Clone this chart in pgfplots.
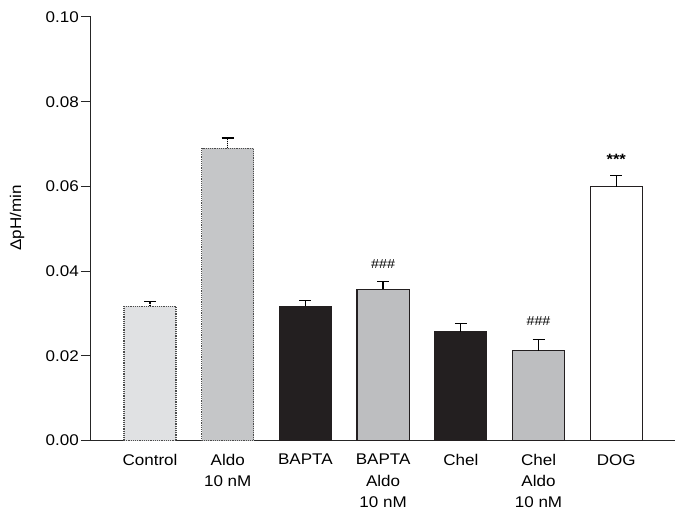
\documentclass[border=0pt]{standalone}
\usepackage{fontspec}
\setmainfont{Liberation Sans}[FakeStretch=1.1]
\usepackage{pgfplots}
\pgfplotsset{compat=1.18}
\definecolor{ctrl}{HTML}{E0E1E3}
\definecolor{aldo}{HTML}{C5C6C8}
\definecolor{grayb}{HTML}{BDBEC0}
\definecolor{blk}{HTML}{231F20}
\begin{document}
\begin{tikzpicture}
\begin{axis}[
  scale only axis, width=584pt, height=424pt,
  xmin=-0.76, xmax=6.75, ymin=0, ymax=0.10,
  axis lines=left, axis line style={-, line width=1pt, black!85},
  ybar, bar shift=0pt, bar width=0.67,
  ytick={0,0.02,0.04,0.06,0.08,0.10},
  yticklabel style={/pgf/number format/fixed, /pgf/number format/fixed zerofill, /pgf/number format/precision=2, /pgf/number format/assume math mode=true, inner xsep=2pt, inner ysep=11.5pt, font=\fontsize{15.5}{17}\selectfont},
  tick align=outside, major tick length=10pt,
  tick style={line width=1pt, black!85},
  xtick={0,1,2,3,4,5,6},
  xticklabels={Control, Aldo\\10 nM, BAPTA, BAPTA\\Aldo\\10 nM, Chel, Chel\\Aldo\\10 nM, DOG},
  x tick style={draw=none},
  xticklabel style={align=center, font=\fontsize{15.5}{21.2}\selectfont, anchor=north, inner xsep=0pt, inner ysep=2pt, yshift=-1.5pt},
  ylabel={ΔpH/min},
  ylabel style={font=\fontsize{15.5}{17}\selectfont, at={(axis description cs:0,0.526)}, anchor=south, inner xsep=0pt, inner ysep=10pt, yshift=56.4pt},
  error bars/y dir=plus, error bars/y explicit,
  error bars/error bar style={line width=1.3pt, black},
  error bars/error mark options={rotate=90, mark size=6pt, line width=1.3pt, black},
  clip=false,
]
\addplot[fill=ctrl, draw=black!70, densely dotted, line width=1.2pt] coordinates {(0,0.0317) +- (0,0.0011)};
\addplot[fill=aldo, draw=black!70, densely dotted, line width=1.2pt] coordinates {(1,0.0690) +- (0,0.0024)};
\addplot[fill=blk, draw=blk, line width=1pt] coordinates {(2,0.0317) +- (0,0.0013)};
\addplot[fill=grayb, draw=blk, line width=1.2pt] coordinates {(3,0.0357) +- (0,0.0018)};
\addplot[fill=blk, draw=blk, line width=1pt] coordinates {(4,0.0257) +- (0,0.0020)};
\addplot[fill=grayb, draw=blk, line width=1.2pt] coordinates {(5,0.0212) +- (0,0.0026)};
\addplot[fill=white, draw=blk, line width=1.2pt] coordinates {(6,0.0599) +- (0,0.0026)};
\node[font=\fontsize{13}{13}\selectfont] at (axis cs:3,0.0417) {\#\#\#};
\node[font=\bfseries\fontsize{15}{15}\selectfont] at (axis cs:6,0.0665) {***};
\node[font=\fontsize{13}{13}\selectfont] at (axis cs:5,0.0282) {\#\#\#};
\end{axis}
\end{tikzpicture}
\end{document}
